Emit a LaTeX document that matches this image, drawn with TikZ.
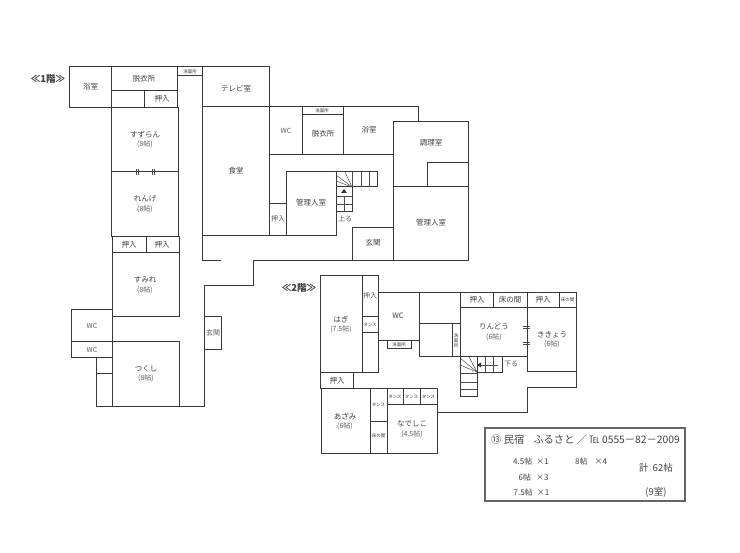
\documentclass[tikz,border=0pt]{standalone}
\usepackage{fontspec}
\setmainfont{Noto Sans CJK JP}
\tikzset{
    wall/.style = {draw = black!78, line width = 1pt, line cap = rect, line join = miter},
    thin wall/.style = {draw = black!70, line width = 0.5pt},
    room/.style = {font = \fontsize{7.5}{8}\selectfont, text = black!75, inner sep = 0pt},
    size/.style = {font = \fontsize{7}{7.5}\selectfont, text = black!65, inner sep = 0pt},
    tiny/.style = {font = \fontsize{4.5}{5}\selectfont, text = black!80, inner sep = 0pt},
    floortag/.style = {font = \fontsize{9.5}{10}\selectfont\bfseries, text = black!75, inner sep = 0pt},
    infotext/.style = {font = \fontsize{8}{9}\selectfont, text = black!75, inner sep = 0pt}
}
\begin{document}
\begin{tikzpicture}[x = 1pt, y = -1pt]
    \useasboundingbox (0, 0) rectangle (740, 553);

    \begin{scope}[wall]
        \draw (69, 67) rectangle (111, 108);
        \draw (111, 67) rectangle (177, 91);
        \draw (111, 91) rectangle (144, 108);
        \draw (144, 91) rectangle (177, 108);
        \draw (177, 67) rectangle (202, 76);
        \draw (202, 67) rectangle (269, 107);
        \draw (111, 108) rectangle (178, 172);
        \draw (111, 172) rectangle (178, 237);
        \draw (112, 237) rectangle (146, 253);
        \draw (146, 237) rectangle (179, 253);
        \draw (112, 253) rectangle (179, 317);
        \draw (71, 310) rectangle (112, 342);
        \draw (71, 342) rectangle (112, 358);
        \draw (96, 358) rectangle (112, 374);
        \draw (96, 374) rectangle (112, 407);
        \draw (112, 342) rectangle (179, 407);
        \draw (179, 407) -- (204, 407) -- (204, 286) -- (253, 286) -- (253, 261) -- (468, 261);
        \draw (204, 317) rectangle (221, 350);
        \draw (202, 107) rectangle (269, 236);
        \draw (202, 236) -- (202, 261) -- (220, 261);
        \draw (269, 236) -- (336, 236);
        \draw (269, 204) rectangle (286, 236);
        \draw (286, 172) rectangle (336, 236);
        \draw (269, 107) -- (418, 107) -- (418, 122);
        \draw (393, 122) rectangle (468, 187);
        \draw (427, 163) rectangle (468, 187);
        \draw (393, 187) rectangle (468, 261);
        \draw (269, 155) -- (393, 155);
        \draw (302, 107) -- (302, 155);
        \draw (343, 107) -- (343, 155);
        \draw (302, 115) -- (343, 115);
        \draw (352, 261) -- (352, 228) -- (393, 228);
    \end{scope}

    % stairs, 1F
    \begin{scope}[wall]
        \draw (336, 172) rectangle (377, 187);
        \draw (336, 187) rectangle (352, 212);
    \end{scope}
    \begin{scope}[thin wall]
        \draw (361, 172) -- (361, 187);
        \draw (369, 172) -- (369, 187);
        \draw (352, 172) -- (352, 187);
        \draw (352, 187) -- (345, 172);
        \draw (352, 187) -- (336, 175);
        \draw (352, 187) -- (336, 181);
        \draw (336, 196) -- (352, 196);
        \draw (336, 204) -- (352, 204);
        \draw (344, 196) -- (344, 212);
        \fill[black!80] (344, 189) -- (347, 193) -- (341, 193) -- cycle;
    \end{scope}

    \begin{scope}[wall]
        \draw (320, 276) rectangle (362, 373);
        \draw (362, 276) rectangle (378, 317);
        \draw (362, 317) rectangle (378, 333);
        \draw (362, 333) rectangle (378, 373);
        \draw (378, 293) rectangle (419, 341);
        \draw (387, 341) rectangle (411, 349);
        \draw (419, 293) rectangle (460, 324);
        \draw (419, 324) rectangle (452, 357);
        \draw (452, 324) rectangle (460, 357);
        \draw (460, 293) rectangle (493, 308);
        \draw (493, 293) rectangle (527, 308);
        \draw (527, 293) rectangle (559, 308);
        \draw (559, 293) rectangle (576, 308);
        \draw (460, 308) rectangle (527, 357);
        \draw (527, 308) rectangle (576, 372);
        \draw (576, 372) -- (576, 388) -- (527, 388) -- (527, 413) -- (437, 413);
        \draw (320, 373) rectangle (353, 389);
        \draw (321, 389) rectangle (370, 454);
        \draw (370, 389) rectangle (387, 422);
        \draw (370, 422) rectangle (387, 454);
        \draw (387, 389) rectangle (403, 405);
        \draw (403, 389) rectangle (420, 405);
        \draw (420, 389) rectangle (437, 405);
        \draw (387, 405) rectangle (437, 454);
    \end{scope}

    % stairs, 2F
    \begin{scope}[wall]
        \draw (460, 357) rectangle (477, 397);
        \draw (477, 357) rectangle (502, 373);
    \end{scope}
    \begin{scope}[thin wall]
        \draw (485, 357) -- (485, 373);
        \draw (493, 357) -- (493, 373);
        \draw (460, 373) -- (477, 373);
        \draw (460, 382) -- (477, 382);
        \draw (460, 389) -- (477, 389);
        \draw (477, 372) -- (460, 358);
        \draw (477, 372) -- (460, 365);
        \draw (477, 372) -- (469, 357);
        \draw (498, 365) -- (480, 365);
        \fill[black!80] (477, 365) -- (481, 362.5) -- (481, 367.5) -- cycle;
    \end{scope}

    % door marks
    \begin{scope}[thin wall, line width = 0.9pt]
        \draw (136, 169) -- (136, 175);
        \draw (138, 169) -- (138, 175);
        \draw (152, 169) -- (152, 175);
        \draw (154, 169) -- (154, 175);
        \draw (523, 326) -- (530, 326);
        \draw (523, 328) -- (530, 328);
        \draw (523, 342) -- (530, 342);
        \draw (523, 344) -- (530, 344);
    \end{scope}

    \draw[draw = black!60, line width = 1.2pt] (485, 428) rectangle (685, 501);

    \path (48, 79) node[floortag] (floorA) {≪1階≫};
    \path (299, 288) node[floortag] (floorB) {≪2階≫};

    \path (90.5, 87) node[room] (bathA) {浴室};
    \path (144, 79) node[room] (dressA) {脱衣所};
    \path (162, 99) node[room] (closetA) {押入};
    \path (190, 71.5) node[tiny] (washA) {洗面所};
    \path (236, 89) node[room] (tvroom) {テレビ室};
    \path (145, 135) node[room] (suzuran) {すずらん};
    \path (145, 144) node[size] (suzuranSize) {(8帖)};
    \path (236, 171) node[room] (dining) {食堂};
    \path (145, 199) node[room] (renge) {れんげ};
    \path (145, 209) node[size] (rengeSize) {(8帖)};
    \path (129, 245) node[room] (closetB) {押入};
    \path (162, 245) node[room] (closetC) {押入};
    \path (145, 280) node[room] (sumire) {すみれ};
    \path (145, 290) node[size] (sumireSize) {(8帖)};
    \path (92, 325.5) node[size] (wcA) {WC};
    \path (92, 350) node[size] (wcB) {WC};
    \path (146, 369) node[room] (tsukushi) {つくし};
    \path (146, 378) node[size] (tsukushiSize) {(8帖)};
    \path (213, 333) node[size] (entryA) {玄関};

    \path (286, 131) node[size] (wcC) {WC};
    \path (322, 111) node[tiny] (washB) {洗面所};
    \path (323, 134) node[room] (dressB) {脱衣所};
    \path (369, 130) node[room] (bathB) {浴室};
    \path (431, 143) node[room] (kitchen) {調理室};
    \path (311, 203) node[room] (managerA) {管理人室};
    \path (278, 219) node[size] (closetD) {押入};
    \path (345, 219) node[size] (upstairs) {上る};
    \path (373, 243) node[room] (entryB) {玄関};
    \path (431, 223) node[room] (managerB) {管理人室};

    \path (341, 320) node[room] (hagi) {はぎ};
    \path (341, 329) node[size] (hagiSize) {(7.5帖)};
    \path (370, 296) node[size] (closetE) {押入};
    \path (370, 324.5) node[tiny] (chestA) {タンス};
    \path (398, 316) node[room] (wcD) {WC};
    \path (399, 345) node[tiny] (washC) {洗面所};
    \path (456, 340.5) node[tiny, align = center] (washD) {洗\\面\\所};
    \path (477, 300) node[room] (closetF) {押入};
    \path (510, 300) node[room] (alcoveA) {床の間};
    \path (543, 300) node[room] (closetG) {押入};
    \path (567.5, 300) node[tiny] (alcoveB) {床の間};
    \path (494, 327) node[room] (rindou) {りんどう};
    \path (494, 337) node[size] (rindouSize) {(6帖)};
    \path (552, 335) node[room] (kikyou) {ききょう};
    \path (552, 344) node[size] (kikyouSize) {(6帖)};
    \path (511, 364) node[size] (downstairs) {下る};
    \path (337, 381) node[room] (closetH) {押入};
    \path (345, 416) node[room] (azami) {あざみ};
    \path (345, 426) node[size] (azamiSize) {(6帖)};
    \path (378.5, 405) node[tiny] (chestB) {タンス};
    \path (378.5, 436) node[tiny] (alcoveC) {床の間};
    \path (395, 397) node[tiny] (chestC) {タンス};
    \path (411.5, 397) node[tiny] (chestD) {タンス};
    \path (428.5, 397) node[tiny] (chestE) {タンス};
    \path (412, 424) node[room] (nadeshiko) {なでしこ};
    \path (412, 434) node[size] (nadeshikoSize) {(4.5帖)};

    \path (585.5, 440) node[infotext] (inntitle) {\fontsize{10.3}{11}\selectfont ⑬ 民宿\hspace{9pt}ふるさと ／ ℡ 0555－82－2009};
    \path (531, 461) node[infotext] (countA) {4.5帖\hspace{4pt}×1};
    \path (533.5, 477) node[infotext] (countB) {6帖\hspace{5pt}×3};
    \path (531.5, 492) node[infotext] (countC) {7.5帖\hspace{4pt}×1};
    \path (591, 461) node[infotext] (countD) {8帖\hspace{7pt}×4};
    \path (656, 468) node[infotext, font = \fontsize{9.5}{10}\selectfont] (total) {計\hspace{4pt}62帖};
    \path (656, 492) node[infotext, font = \fontsize{9.5}{10}\selectfont] (roomcount) {(9室)};
\end{tikzpicture}
\end{document}
